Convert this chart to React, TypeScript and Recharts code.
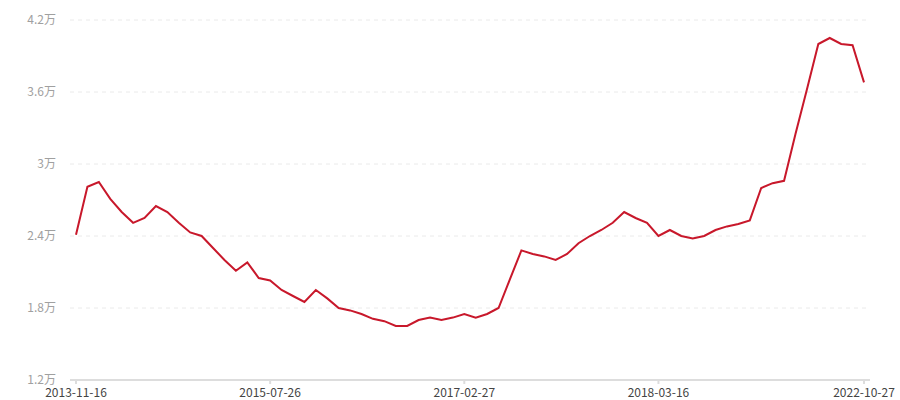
import { LineChart, Line, XAxis, YAxis, CartesianGrid } from 'recharts'

// values in 万
const values = [
	2.41, 2.81, 2.85, 2.71, 2.6, 2.51, 2.55, 2.65, 2.6, 2.51,
	2.43, 2.4, 2.3, 2.2, 2.11, 2.18, 2.05, 2.03, 1.95, 1.9,
	1.85, 1.95, 1.88, 1.8, 1.78, 1.75, 1.71, 1.69, 1.65, 1.65,
	1.7, 1.72, 1.7, 1.72, 1.75, 1.72, 1.75, 1.8, 2.04, 2.28,
	2.25, 2.23, 2.2, 2.25, 2.34, 2.4, 2.45, 2.51, 2.6, 2.55,
	2.51, 2.4, 2.45, 2.4, 2.38, 2.4, 2.45, 2.48, 2.5, 2.53,
	2.8, 2.84, 2.86, 3.25, 3.62, 4.0, 4.05, 4.0, 3.99, 3.68,
]

const tickIndex = [0, 17, 34, 51, 69]
const tickDates = ['2013-11-16', '2015-07-26', '2017-02-27', '2018-03-16', '2022-10-27']
const yTicks = [1.2, 1.8, 2.4, 3, 3.6, 4.2]

const data = values.map((v, i) => ({ i, v }))

const font = '"Noto Sans CJK SC", "Noto Sans", sans-serif'

const App = () => {
	return (
		<div style={{ position: 'absolute', left: 0, top: 0, width: 900, height: 400, background: '#fff' }}>
			<LineChart
				width={900}
				height={400}
				data={data}
				margin={{ top: 20, right: 30, bottom: 0, left: 0 }}
			>
				<CartesianGrid
					vertical={false}
					stroke='#eaeaea'
					strokeDasharray='4 4'
				/>
				<XAxis
					dataKey='i'
					type='number'
					domain={[0, 69]}
					ticks={tickIndex}
					tickFormatter={(v: number) => tickDates[tickIndex.indexOf(v)] ?? ''}
					padding={{ left: 6, right: 6 }}
					height={20}
					stroke='#dddddd'
					strokeWidth={2}
					tickSize={4}
					tickMargin={4}
					tick={{ fill: '#444', fontSize: 12, fontFamily: font }}
					interval={0}
				/>
				<YAxis
					domain={[1.2, 4.2]}
					ticks={yTicks}
					width={70}
					axisLine={false}
					tickLine={false}
					tickMargin={8}
					tickFormatter={(v: number) => `${v}万`}
					tick={{ fill: '#a0a0a0', fontSize: 12, fontFamily: font }}
				/>
				<Line
					type='linear'
					dataKey='v'
					stroke='#c8182b'
					strokeWidth={2}
					dot={false}
					isAnimationActive={false}
				/>
			</LineChart>
		</div>
	)
}

export default App
